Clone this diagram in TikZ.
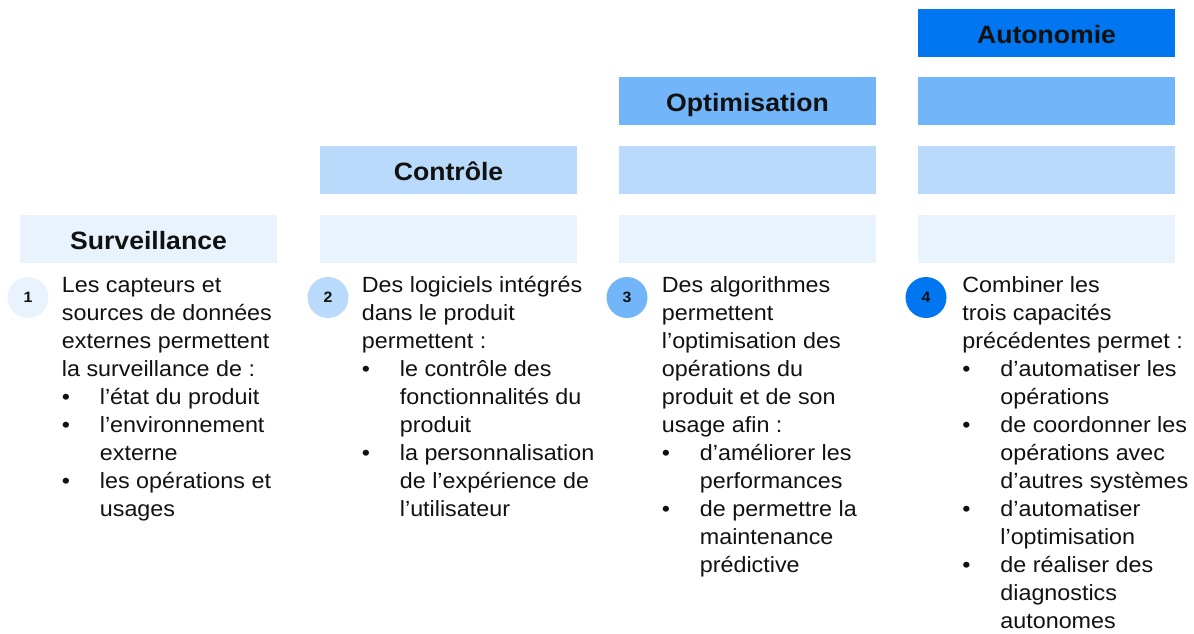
\documentclass[tikz,border=0pt]{standalone}
\usepackage{fontspec}
\setmainfont[FakeStretch=1.06]{Liberation Sans}
\definecolor{lvA}{HTML}{E9F3FD}
\definecolor{lvB}{HTML}{B9DAFB}
\definecolor{lvC}{HTML}{72B5F8}
\definecolor{lvD}{HTML}{0077F0}
\definecolor{txt}{HTML}{111111}
\newcommand\mybul{\makebox[19pt][l]{\textbullet}}
\newcommand\myind{\hspace*{19pt}}
\tikzset{
  lvlbox/.style={minimum width=128.5pt, minimum height=24pt, inner sep=0pt, draw=none,
    font=\fontsize{12.55}{15}\selectfont\bfseries, text=txt, text height=10.5pt, text depth=0pt},
  num/.style={circle, minimum size=20.5pt, inner sep=0pt, text=txt,
    font=\fontsize{7.5}{9}\selectfont\bfseries},
  body/.style={anchor=base west, inner sep=0pt, text=txt, font=\fontsize{11}{14}\selectfont}
}
\begin{document}
\begin{tikzpicture}[x=0.5pt,y=-0.5pt]
\useasboundingbox (0,0) rectangle (1194,633);
% level boxes, row 1 (bottom)
\node[lvlbox, fill=lvA] (s1) at (148.5,239) {Surveillance};
\node[lvlbox, fill=lvA] (s2) at (448.5,239) {};
\node[lvlbox, fill=lvA] (s3) at (747.5,239) {};
\node[lvlbox, fill=lvA] (s4) at (1046.5,239) {};
% row 2
\node[lvlbox, fill=lvB] (c2) at (448.5,170) {Contrôle};
\node[lvlbox, fill=lvB] (c3) at (747.5,170) {};
\node[lvlbox, fill=lvB] (c4) at (1046.5,170) {};
% row 3
\node[lvlbox, fill=lvC] (o3) at (747.5,101) {Optimisation};
\node[lvlbox, fill=lvC] (o4) at (1046.5,101) {};
% row 4
\node[lvlbox, fill=lvD] (a4) at (1046.5,32.5) {Autonomie};
% number circles
\node[num, fill=lvA] (n1) at (28,297.5) {1};
\node[num, fill=lvB] (n2) at (328,297.5) {2};
\node[num, fill=lvC] (n3) at (627,297.5) {3};
\node[num, fill=lvD] (n4) at (926,297.5) {4};
% texts
\node[body] (t1) at (61.5,292.7) {\begin{tabular}[t]{@{}l@{}}
Les capteurs et\\
sources de données\\
externes permettent\\
la surveillance de :\\
\mybul l’état du produit\\
\mybul l’environnement\\
\myind externe\\
\mybul les opérations et\\
\myind usages
\end{tabular}};
\node[body] (t2) at (361.5,292.7) {\begin{tabular}[t]{@{}l@{}}
Des logiciels intégrés\\
dans le produit\\
permettent :\\
\mybul le contrôle des\\
\myind fonctionnalités du\\
\myind produit\\
\mybul la personnalisation\\
\myind de l’expérience de\\
\myind l’utilisateur
\end{tabular}};
\node[body] (t3) at (661.5,292.7) {\begin{tabular}[t]{@{}l@{}}
Des algorithmes\\
permettent\\
l’optimisation des\\
opérations du\\
produit et de son\\
usage afin :\\
\mybul d’améliorer les\\
\myind performances\\
\mybul de permettre la\\
\myind maintenance\\
\myind prédictive
\end{tabular}};
\node[body] (t4) at (962,292.7) {\begin{tabular}[t]{@{}l@{}}
Combiner les\\
trois capacités\\
précédentes permet :\\
\mybul d’automatiser les\\
\myind opérations\\
\mybul de coordonner les\\
\myind opérations avec\\
\myind d’autres systèmes\\
\mybul d’automatiser\\
\myind l’optimisation\\
\mybul de réaliser des\\
\myind diagnostics\\
\myind autonomes
\end{tabular}};
\end{tikzpicture}
\end{document}
